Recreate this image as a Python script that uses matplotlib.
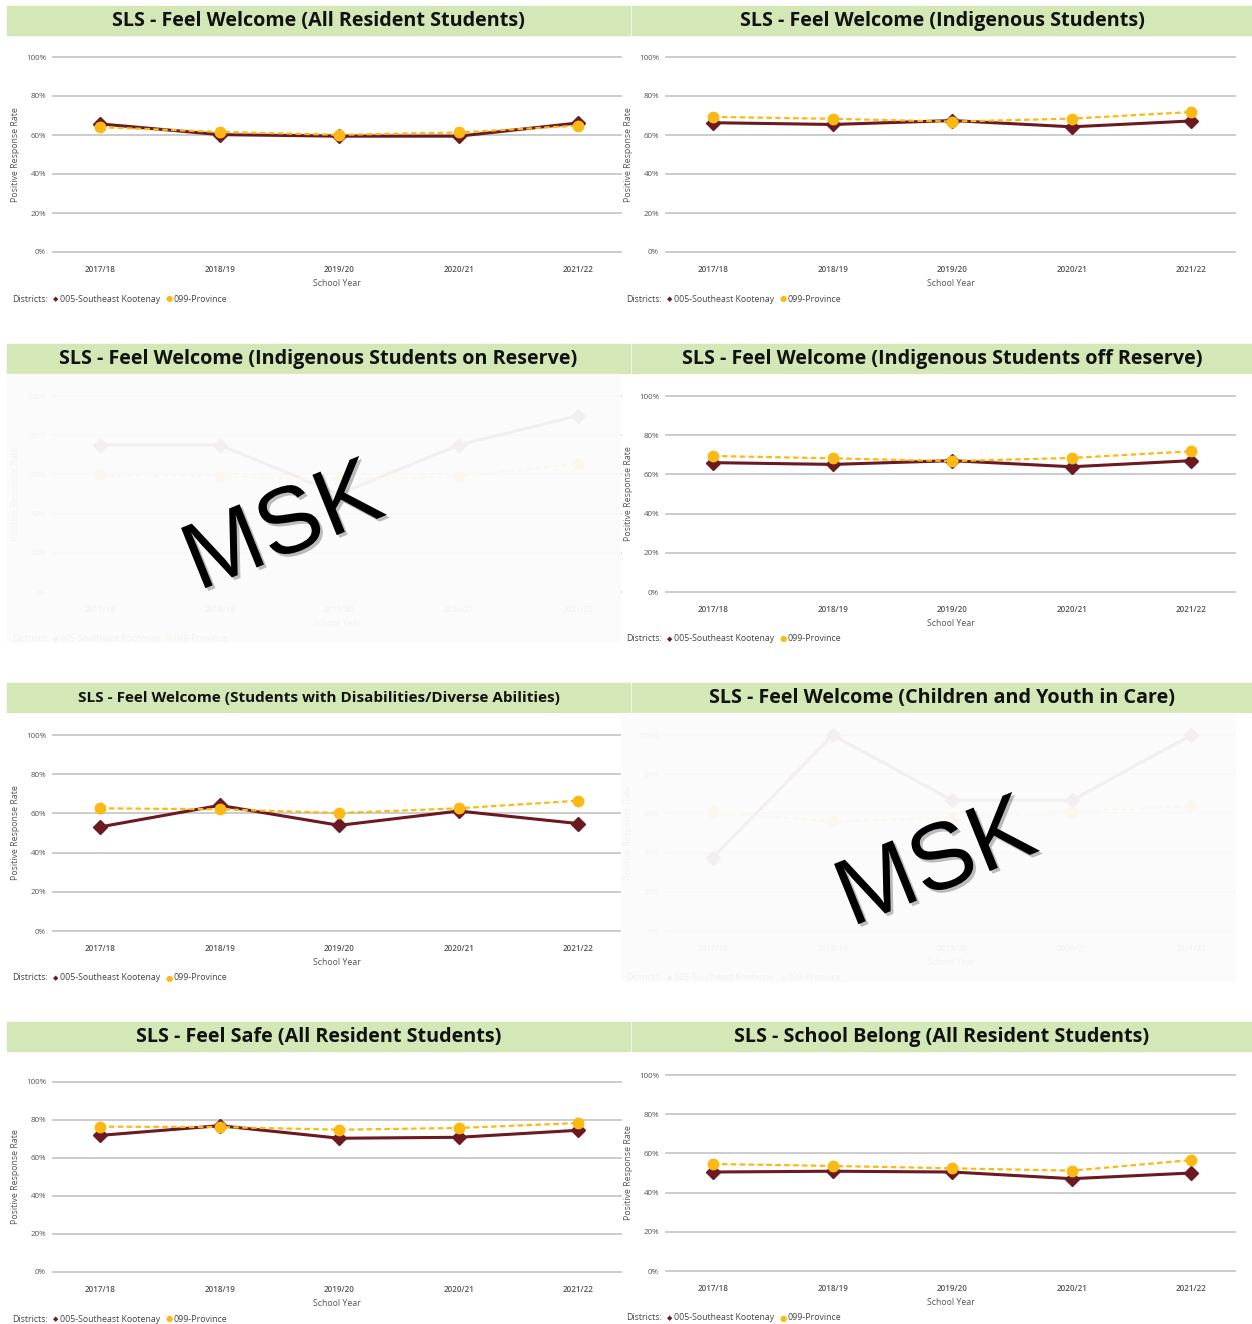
import matplotlib
matplotlib.use("Agg")
import matplotlib.pyplot as plt
import matplotlib.patheffects as pe
from matplotlib.patches import Rectangle

plt.rcParams['font.family'] = ['Open Sans', 'DejaVu Sans']

W, H = 1252, 1324

years = ['2017/18', '2018/19', '2019/20', '2020/21', '2021/22']

titles = [
    'SLS - Feel Welcome (All Resident Students)',
    'SLS - Feel Welcome (Indigenous Students)',
    'SLS - Feel Welcome (Indigenous Students on Reserve)',
    'SLS - Feel Welcome (Indigenous Students off Reserve)',
    'SLS - Feel Welcome (Students with Disabilities/Diverse Abilities)',
    'SLS - Feel Welcome (Children and Youth in Care)',
    'SLS - Feel Safe (All Resident Students)',
    'SLS - School Belong (All Resident Students)',
]

# 005-Southeast Kootenay
kootenay = [
    [65.7, 60.2, 59.4, 59.4, 66.2],
    [66.3, 65.4, 67.4, 64.2, 67.2],
    [75.0, 75.0, 50.0, 75.0, 90.0],
    [66.0, 65.1, 67.0, 63.9, 67.0],
    [53.1, 64.1, 53.9, 61.2, 54.8],
    [37.5, 100.0, 66.7, 66.7, 100.0],
    [71.9, 77.0, 70.4, 70.9, 74.6],
    [50.5, 50.9, 50.5, 47.1, 50.0],
]

# 099-Province
province = [
    [64.0, 61.6, 60.1, 61.3, 64.8],
    [69.3, 68.3, 66.9, 68.4, 71.8],
    [59.5, 59.1, 57.1, 59.1, 65.4],
    [69.4, 68.2, 66.8, 68.4, 71.8],
    [62.6, 62.1, 60.2, 62.6, 66.5],
    [60.5, 55.9, 57.8, 60.9, 63.6],
    [76.5, 76.3, 74.9, 75.8, 78.4],
    [54.6, 53.6, 52.4, 51.2, 56.6],
]

# layout in pixels: (column, title bar top, y of 100%, y of 0%)
layout = [
    (0, 6, 57, 252), (1, 6, 57, 252),
    (0, 344, 396, 592), (1, 344, 396, 592),
    (0, 683, 735, 931), (1, 683, 735, 931),
    (0, 1022, 1082, 1272), (1, 1022, 1075, 1271),
]
masked = [False, False, True, False, False, True, False, False]
title_size = [14.2, 14.2, 14.2, 14.2, 11, 14.2, 14.2, 14.2]

SK_COLOR = '#6b1a22'
PROV_COLOR = '#fdb913'
BAR_COLOR = '#d3e8b6'
TEXT_GRAY = '#555555'

fig = plt.figure(figsize=(W / 100, H / 100), dpi=100)


def fx(x):
    return x / W


def fy(y):
    return 1 - y / H


for i in range(8):
    col, bar_top, y100, y0 = layout[i]
    if col == 0:
        bx0, bx1, ax_l, ax_r, ref0 = 7, 630, 53, 621, 100
    else:
        bx0, bx1, ax_l, ax_r, ref0 = 632, 1252, 666, 1235, 713
    step = 119.6

    # title bar
    fig.patches.append(Rectangle((fx(bx0), fy(bar_top + 29)), fx(bx1 - bx0), 29 / H,
                                 transform=fig.transFigure, color=BAR_COLOR, zorder=1))
    fig.text(fx((bx0 + bx1) / 2), fy(bar_top + 15), titles[i], ha='center', va='center',
             fontsize=title_size[i], fontweight='bold', color='#111111', zorder=2)

    ax = fig.add_axes([fx(ax_l), fy(y0), fx(ax_r - ax_l), (y0 - y100) / H])
    ax.set_xlim((ax_l - ref0) / step, (ax_r - ref0) / step)
    ax.set_ylim(0, 100)
    for s in ax.spines.values():
        s.set_visible(False)
    for t in range(0, 101, 20):
        ax.axhline(t, color='#c8c8c8', lw=1.3, clip_on=False, zorder=0)
    ax.set_yticks(range(0, 101, 20))
    ax.set_yticklabels([f'{t}%' for t in range(0, 101, 20)], fontsize=5.8, color=TEXT_GRAY)
    ax.set_xticks(range(5))
    ax.set_xticklabels(years, fontsize=5.8, color=TEXT_GRAY, fontweight='semibold')
    ax.tick_params(length=0, pad=5)
    ax.tick_params(axis='x', pad=9.5)
    ax.set_xlabel('School Year', fontsize=6.3, color=TEXT_GRAY, labelpad=3.5)
    ax.set_ylabel('Positive Response Rate', fontsize=6.3, color=TEXT_GRAY, labelpad=4)
    ax.patch.set_alpha(0)

    ax.plot(range(5), kootenay[i], color=SK_COLOR, lw=2.2, marker='D', ms=7.5,
            zorder=3, clip_on=False)
    ax.plot(range(5), province[i], color=PROV_COLOR, lw=1.6, ls=(0, (2.5, 1.5)),
            marker='o', ms=7.5, zorder=4, clip_on=False)

    # legend line
    lx = bx0 + 5 if col == 0 else bx0 - 6
    ly = fy(y0 + 47)
    fig.text(fx(lx), ly, 'Districts:', fontsize=6.3, color='#444444', va='center')
    fig.text(fx(lx + 41), ly, '\u25c6', fontsize=5, color=SK_COLOR, va='center',
             family='DejaVu Sans')
    fig.text(fx(lx + 48), ly, '005-Southeast Kootenay', fontsize=6.3, color='#444444',
             va='center')
    fig.text(fx(lx + 154), ly, '\u25cf', fontsize=6, color=PROV_COLOR, va='center',
             family='DejaVu Sans')
    fig.text(fx(lx + 161), ly, '099-Province', fontsize=6.3, color='#444444', va='center')

    if masked[i]:
        mx0 = 7 if col == 0 else 621
        mx1 = 620 if col == 0 else 1235
        my0, my1 = bar_top + 30, y0 + 50
        fig.patches.append(Rectangle((fx(mx0), fy(my1)), fx(mx1 - mx0), (my1 - my0) / H,
                                     transform=fig.transFigure, color='#fbfbfb',
                                     alpha=0.95, zorder=10))
        cx = 284 if col == 0 else 937
        cy = 530 if col == 0 else 866
        fig.text(fx(cx), fy(cy), 'MSK', fontsize=68, family='Liberation Sans',
                 rotation=22, ha='center', va='center', color='black', zorder=11,
                 path_effects=[pe.SimplePatchShadow(offset=(2, -2), alpha=0.25),
                               pe.Normal()])

fig.savefig('out.png', dpi=100)
